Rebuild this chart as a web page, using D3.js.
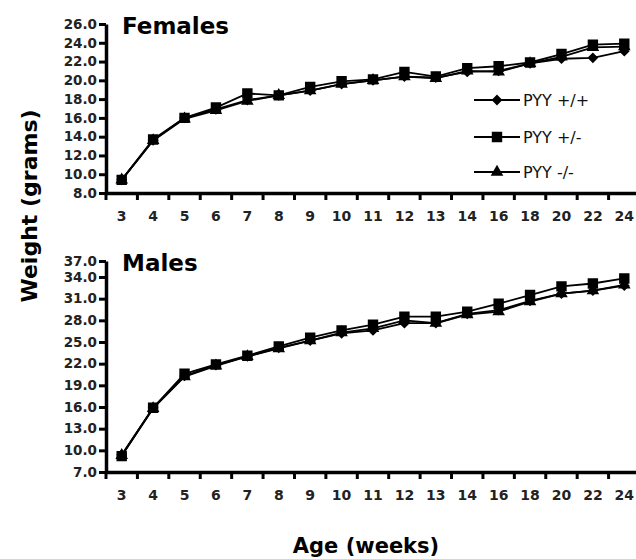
<!DOCTYPE html>
<html>
<head>
<meta charset="utf-8">
<script src="https://cdn.jsdelivr.net/npm/d3@7"></script>
<style>
  body { margin: 0; background: #fff; }
  svg { display: block; font-family: "DejaVu Sans", sans-serif; }
</style>
</head>
<body>
<div id="chart"></div>
<script>
var weeks = [3, 4, 5, 6, 7, 8, 9, 10, 11, 12, 13, 14, 16, 18, 20, 22, 24];
var seriesNames = ["PYY +/+", "PYY +/-", "PYY -/-"];
var femaleWT  = [9.4, 13.6, 16.0, 16.9, 17.9, 18.4, 18.9, 19.6, 20.0, 20.4, 20.3, 20.9, 21.0, 21.8, 22.3, 22.4, 23.1];
var femaleHet = [9.4, 13.7, 16.0, 17.1, 18.6, 18.4, 19.3, 19.9, 20.1, 20.9, 20.4, 21.3, 21.5, 21.9, 22.8, 23.8, 23.9];
var femaleKO  = [9.4, 13.6, 15.9, 16.8, 17.8, 18.4, 18.9, 19.6, 20.0, 20.4, 20.2, 21.0, 20.9, 21.8, 22.5, 23.5, 23.6];
var maleWT  = [9.4, 15.9, 20.3, 21.8, 23.0, 24.2, 25.2, 26.2, 26.6, 27.6, 27.6, 28.9, 29.4, 30.7, 31.7, 32.1, 32.8];
var maleHet = [9.2, 15.9, 20.6, 21.9, 23.1, 24.4, 25.6, 26.6, 27.4, 28.5, 28.5, 29.2, 30.3, 31.5, 32.7, 33.1, 33.8];
var maleKO  = [9.3, 15.8, 20.2, 21.7, 23.0, 24.1, 25.2, 26.3, 26.9, 28.0, 27.6, 28.8, 29.2, 30.6, 31.7, 32.1, 32.9];
var femaleTicks = [8, 10, 12, 14, 16, 18, 20, 22, 24, 26];
var maleTicks = [7, 10, 13, 16, 19, 22, 25, 28, 31, 34, 37];

var width = 636, height = 559;
var svg = d3.select("#chart").append("svg")
  .attr("width", width).attr("height", height);

var x = d3.scaleBand().domain(weeks).range([106, 640]);

var symbols = [d3.symbolDiamond2, d3.symbolSquare2, d3.symbolTriangle2];
var symSizes = [40, 90, 60];

function marker(sel, i) {
  sel.attr("d", d3.symbol().type(symbols[i]).size(symSizes[i]))
    .attr("fill", "#000").attr("stroke", "#000").attr("stroke-width", 2);
}

function panel(title, series, y, ticks) {
  var g = svg.append("g");

  // lines and markers
  series.forEach(function(vals, i) {
    var pts = weeks.map(function(w, j) { return { w: w, v: vals[j] }; });
    var line = d3.line()
      .x(function(d) { return x(d.w) + x.bandwidth() / 2; })
      .y(function(d) { return y(d.v); });
    g.append("path").datum(pts)
      .attr("d", line)
      .attr("fill", "none").attr("stroke", "#000").attr("stroke-width", 1.8);
    g.selectAll(".m" + i).data(pts).enter().append("path")
      .attr("class", "m" + i)
      .attr("transform", function(d) { return "translate(" + (x(d.w) + x.bandwidth() / 2) + "," + y(d.v) + ")"; })
      .call(marker, i);
  });

  // x axis, ticks between categories
  var xAxis = d3.axisBottom(x).tickSize(7).tickSizeOuter(0);
  var xg = g.append("g")
    .attr("transform", "translate(0," + y.range()[0] + ")")
    .call(xAxis);
  xg.selectAll(".tick line")
    .attr("x1", -x.step() / 2).attr("x2", -x.step() / 2)
    .attr("stroke-width", 3);
  xg.selectAll(".tick text")
    .attr("y", 18).attr("dy", "0.71em")
    .style("font-size", "14px").style("font-weight", "bold")
    .attr("fill", "#222").attr("font-family", "DejaVu Sans");
  xg.select(".domain").attr("stroke-width", 3.5);

  var yAxis = d3.axisLeft(y).tickValues(ticks).tickFormat(d3.format(".1f"))
    .tickSize(7).tickSizeOuter(0).tickPadding(2);
  var yg = g.append("g")
    .attr("transform", "translate(106,0)")
    .call(yAxis);
  yg.selectAll(".tick line").attr("stroke-width", 3);
  yg.selectAll(".tick text")
    .style("font-size", "13.5px").style("font-weight", "bold")
    .attr("fill", "#222").attr("font-family", "DejaVu Sans");
  yg.select(".domain").attr("stroke-width", 3.5);

  g.append("text")
    .attr("x", 122).attr("y", y.range()[y.range().length - 1] + 10)
    .style("font-size", "23px").style("font-weight", "bold")
    .text(title);
}

var yF = d3.scaleLinear().domain([8, 26]).range([193, 24]);
var yM = d3.scaleLinear().domain([7, 34, 37]).range([472, 277, 261]);

panel("Females", [femaleWT, femaleHet, femaleKO], yF, femaleTicks);
panel("Males", [maleWT, maleHet, maleKO], yM, maleTicks);

// legend
var legend = svg.append("g");
seriesNames.forEach(function(name, i) {
  var ly = [100, 137, 172][i];
  legend.append("line")
    .attr("x1", 474).attr("x2", 520).attr("y1", ly).attr("y2", ly)
    .attr("stroke", "#000").attr("stroke-width", 1.8);
  legend.append("path")
    .attr("transform", "translate(497," + ly + ")")
    .call(marker, i);
  legend.append("text")
    .attr("x", 523).attr("y", ly).attr("dy", "0.36em")
    .style("font-size", "16px").attr("fill", "#111")
    .text(name);
});

svg.append("text")
  .attr("transform", "translate(37,206) rotate(-90)")
  .attr("text-anchor", "middle")
  .style("font-size", "22px").style("font-weight", "bold")
  .text("Weight (grams)");

svg.append("text")
  .attr("x", 366).attr("y", 553)
  .attr("text-anchor", "middle")
  .style("font-size", "21px").style("font-weight", "bold")
  .text("Age (weeks)");
</script>
</body>
</html>
